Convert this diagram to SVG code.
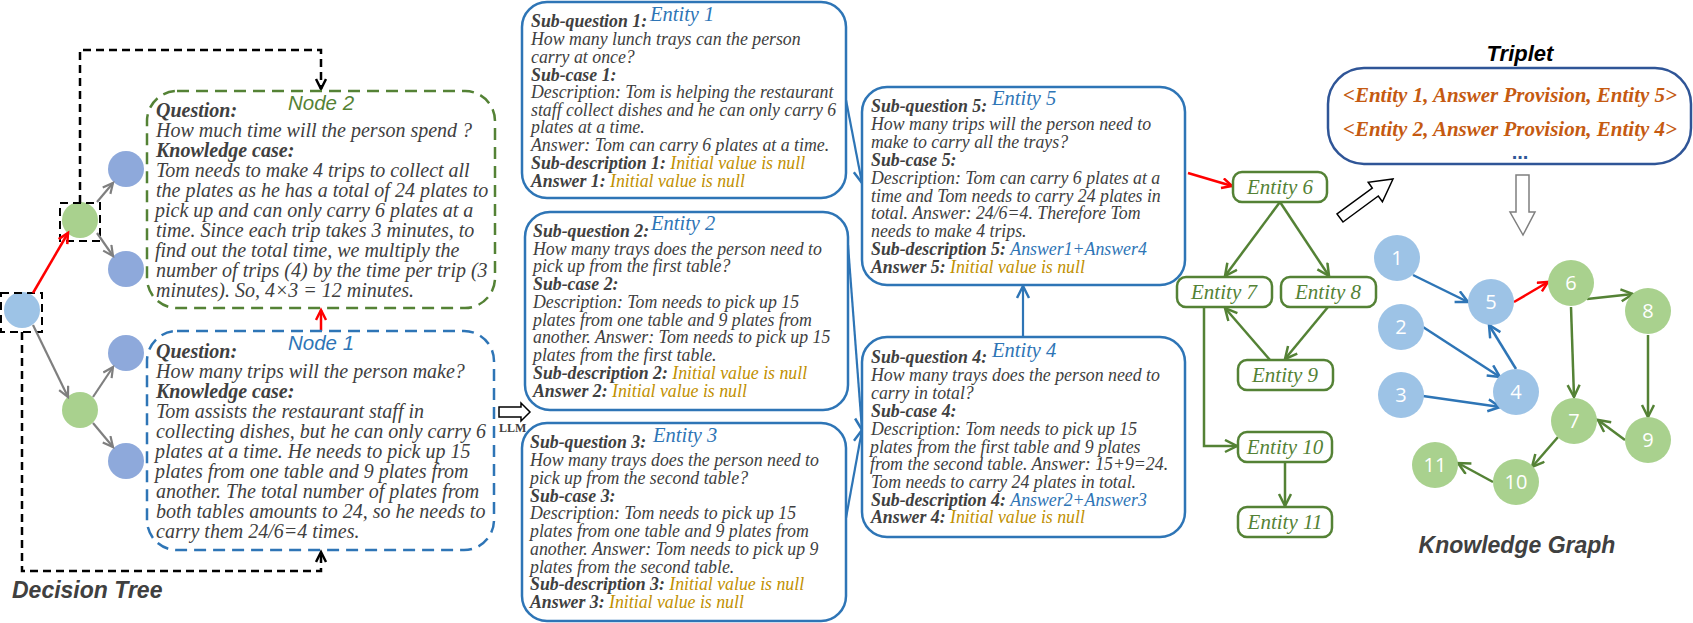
<svg xmlns="http://www.w3.org/2000/svg" width="1693" height="623" viewBox="0 0 1693 623">
<style>
.t{font-family:"Liberation Serif","Times New Roman",serif;font-style:italic;fill:#404040}
.n{font-size:20px}
.e{font-size:17.8px}
.b{font-weight:bold}
.gold{fill:#BF9000}
.blu{fill:#2E75B6}
.elbl{font-family:"Liberation Serif",serif;font-style:italic;font-size:20.5px;fill:#2E75B6}
.glbl{font-family:"Liberation Serif",serif;font-style:italic;font-size:21px;fill:#548235;text-anchor:middle}
.nodelbl{font-family:"Liberation Sans",Arial,sans-serif;font-style:italic;font-size:20.5px;text-anchor:middle}
.head{font-family:"Liberation Sans",Arial,sans-serif;font-weight:bold;font-style:italic}
.ebox{fill:#fff;stroke:#2E75B6;stroke-width:2.5}
.gbox{fill:#fff;stroke:#548235;stroke-width:2.5}
.kgn{font-family:"Open Sans","Liberation Sans",sans-serif;font-size:20px;fill:#fff;text-anchor:middle}
.trip{font-family:"Liberation Serif",serif;font-style:italic;font-weight:bold;font-size:21px;fill:#C55A11;text-anchor:middle}
</style>
<defs>
<marker id="aBlk" markerUnits="userSpaceOnUse" markerWidth="14" markerHeight="14" refX="11" refY="6" orient="auto"><path d="M1,1 L11,6 L1,11" fill="none" stroke="#000" stroke-width="2.5"/></marker>
<marker id="aRed" markerUnits="userSpaceOnUse" markerWidth="14" markerHeight="14" refX="11" refY="6" orient="auto"><path d="M1,1 L11,6 L1,11" fill="none" stroke="#FF0000" stroke-width="2.5"/></marker>
<marker id="aGry" markerUnits="userSpaceOnUse" markerWidth="14" markerHeight="14" refX="11" refY="6" orient="auto"><path d="M1,1 L11,6 L1,11" fill="none" stroke="#7F7F7F" stroke-width="2.2"/></marker>
<marker id="aBlu" markerUnits="userSpaceOnUse" markerWidth="16" markerHeight="16" refX="13" refY="7" orient="auto"><path d="M1,1 L13,7 L1,13" fill="none" stroke="#2E75B6" stroke-width="2.5"/></marker>
<marker id="aGrn" markerUnits="userSpaceOnUse" markerWidth="16" markerHeight="16" refX="13" refY="7" orient="auto"><path d="M1,1 L13,7 L1,13" fill="none" stroke="#548235" stroke-width="2.5"/></marker>
</defs>
<rect width="1693" height="623" fill="#fff"/>

<g id="decision-tree">
<circle cx="22" cy="310" r="18" fill="#9DC3E6"/>
<circle cx="80" cy="220" r="18" fill="#A9D18E"/>
<circle cx="80" cy="410" r="18" fill="#A9D18E"/>
<circle cx="126" cy="169" r="18" fill="#8EA9DB"/>
<circle cx="126" cy="269" r="18" fill="#8EA9DB"/>
<circle cx="126" cy="353" r="18" fill="#8EA9DB"/>
<circle cx="126" cy="461" r="18" fill="#8EA9DB"/>
<rect x="60" y="203" width="40" height="38" fill="none" stroke="#000" stroke-width="2" stroke-dasharray="8,5"/>
<rect x="1" y="293" width="41" height="39" fill="none" stroke="#000" stroke-width="2" stroke-dasharray="8,5"/>
<text x="12" y="598" class="head" font-size="23" fill="#404040">Decision Tree</text>
</g>

<g id="connectors">
<path d="M33,293 L68,233" stroke="#FF0000" stroke-width="2.5" fill="none" marker-end="url(#aRed)"/>
<path d="M33,325 L68,397" stroke="#7F7F7F" stroke-width="2.2" fill="none" marker-end="url(#aGry)"/>
<path d="M97,202 L113,183" stroke="#7F7F7F" stroke-width="2.2" fill="none" marker-end="url(#aGry)"/>
<path d="M97,233 L113,256" stroke="#7F7F7F" stroke-width="2.2" fill="none" marker-end="url(#aGry)"/>
<path d="M93,397 L113,367" stroke="#7F7F7F" stroke-width="2.2" fill="none" marker-end="url(#aGry)"/>
<path d="M93,423 L113,447" stroke="#7F7F7F" stroke-width="2.2" fill="none" marker-end="url(#aGry)"/>
<path d="M80,203 V50 H321 V89" stroke="#000" stroke-width="2.5" stroke-dasharray="8,5" fill="none" marker-end="url(#aBlk)"/>
<path d="M22,332 V571 H321 V552" stroke="#000" stroke-width="2.5" stroke-dasharray="8,5" fill="none" marker-end="url(#aBlk)"/>
<path d="M321,331 V310" stroke="#FF0000" stroke-width="2.5" fill="none" marker-end="url(#aRed)"/>
<polygon points="499,407 521,407 521,403 530,412 521,421 521,417 499,417" fill="#fff" stroke="#000" stroke-width="1.5"/>
<path d="M846,100 L862,183" stroke="#2E75B6" stroke-width="2.2" fill="none" marker-end="url(#aBlu)"/>
<path d="M848,245 L862,430" stroke="#2E75B6" stroke-width="2.2" fill="none" marker-end="url(#aBlu)"/>
<path d="M846,518 L862,430" stroke="#2E75B6" stroke-width="2.2" fill="none" marker-end="url(#aBlu)"/>
<path d="M1023,337 V286" stroke="#2E75B6" stroke-width="2.2" fill="none" marker-end="url(#aBlu)"/>
<path d="M1188,173 L1232,186" stroke="#FF0000" stroke-width="2.5" fill="none" marker-end="url(#aRed)"/>
<path d="M1280,202 L1225,276" stroke="#548235" stroke-width="2.5" fill="none" marker-end="url(#aGrn)"/>
<path d="M1280,202 L1329,276" stroke="#548235" stroke-width="2.5" fill="none" marker-end="url(#aGrn)"/>
<path d="M1328,307 L1285,359" stroke="#548235" stroke-width="2.5" fill="none" marker-end="url(#aGrn)"/>
<path d="M1270,360 L1225,308" stroke="#548235" stroke-width="2.5" fill="none" marker-end="url(#aGrn)"/>
<path d="M1204,307 V446 H1237" stroke="#548235" stroke-width="2.5" fill="none" marker-end="url(#aGrn)"/>
<path d="M1285,462 V506" stroke="#548235" stroke-width="2.5" fill="none" marker-end="url(#aGrn)"/>
<polygon points="1343,222 1378.3,196 1382.4,201.7 1393,179 1368.2,182.3 1372.3,188 1337,214" fill="#fff" stroke="#000" stroke-width="1.5"/>
<polygon points="1516,175 1529,175 1529,212 1535,212 1523,235 1510,212 1516,212" fill="#fff" stroke="#7F7F7F" stroke-width="1.5"/>
<path d="M1413,275 L1468,302" stroke="#2E75B6" stroke-width="2.5" fill="none" marker-end="url(#aBlu)"/>
<path d="M1423,327 L1500,377" stroke="#2E75B6" stroke-width="2.5" fill="none" marker-end="url(#aBlu)"/>
<path d="M1423,396 L1500,407" stroke="#2E75B6" stroke-width="2.5" fill="none" marker-end="url(#aBlu)"/>
<path d="M1516,369 L1489,325" stroke="#2E75B6" stroke-width="2.5" fill="none" marker-end="url(#aBlu)"/>
<path d="M1514,302 L1548,282" stroke="#FF0000" stroke-width="2.5" fill="none" marker-end="url(#aRed)"/>
<path d="M1587,299 L1633,294" stroke="#548235" stroke-width="2.5" fill="none" marker-end="url(#aGrn)"/>
<path d="M1571,307 L1574,397" stroke="#548235" stroke-width="2.5" fill="none" marker-end="url(#aGrn)"/>
<path d="M1648,335 V417" stroke="#548235" stroke-width="2.5" fill="none" marker-end="url(#aGrn)"/>
<path d="M1625,440 L1598,420" stroke="#548235" stroke-width="2.5" fill="none" marker-end="url(#aGrn)"/>
<path d="M1558,437 L1532,467" stroke="#548235" stroke-width="2.5" fill="none" marker-end="url(#aGrn)"/>
<path d="M1493,482 L1458,463" stroke="#548235" stroke-width="2.5" fill="none" marker-end="url(#aGrn)"/>
</g>

<g id="llm-label"><text x="499" y="432" font-family="Liberation Serif,serif" font-weight="bold" font-size="12" fill="#404040">LLM</text></g>

<g id="node2">
<rect x="147" y="91" width="348" height="217" rx="30" fill="none" stroke="#548235" stroke-width="2.5" stroke-dasharray="12,7"/>
<text x="321" y="110" class="nodelbl" fill="#548235">Node 2</text>
<text class="t n">
<tspan x="156" y="117" class="b">Question:</tspan>
<tspan x="156" y="137">How much time will the person spend ?</tspan>
<tspan x="156" y="157" class="b">Knowledge case:</tspan>
<tspan x="156" y="177">Tom needs to make 4 trips to collect all</tspan>
<tspan x="156" y="197">the plates as he has a total of 24 plates to</tspan>
<tspan x="155" y="217">pick up and can only carry 6 plates at a</tspan>
<tspan x="156" y="237">time. Since each trip takes 3 minutes, to</tspan>
<tspan x="155" y="257">find out the total time, we multiply the</tspan>
<tspan x="156" y="277">number of trips (4) by the time per trip (3</tspan>
<tspan x="156" y="297">minutes). So, 4×3 = 12 minutes.</tspan>
</text>
</g>

<g id="node1">
<rect x="147" y="331" width="347" height="219" rx="30" fill="none" stroke="#2E75B6" stroke-width="2.5" stroke-dasharray="12,7"/>
<text x="321" y="350" class="nodelbl" fill="#2E75B6">Node 1</text>
<text class="t n">
<tspan x="156" y="358" class="b">Question:</tspan>
<tspan x="156" y="378">How many trips will the person make?</tspan>
<tspan x="156" y="398" class="b">Knowledge case:</tspan>
<tspan x="156" y="418">Tom assists the restaurant staff in</tspan>
<tspan x="156" y="438">collecting dishes, but he can only carry 6</tspan>
<tspan x="155" y="458">plates at a time. He needs to pick up 15</tspan>
<tspan x="155" y="478">plates from one table and 9 plates from</tspan>
<tspan x="156" y="498">another. The total number of plates from</tspan>
<tspan x="156" y="518">both tables amounts to 24, so he needs to</tspan>
<tspan x="156" y="538">carry them 24/6=4 times.</tspan>
</text>
</g>

<g id="entity1">
<rect x="522" y="2" width="324" height="196" rx="25" class="ebox"/>
<text x="650" y="21" class="elbl">Entity 1</text>
<text class="t e">
<tspan x="531" y="27" class="b">Sub-question 1:</tspan>
<tspan x="531" y="45">How many lunch trays can the person</tspan>
<tspan x="531" y="63">carry at once?</tspan>
<tspan x="531" y="81" class="b">Sub-case 1:</tspan>
<tspan x="531" y="98">Description: Tom is helping the restaurant</tspan>
<tspan x="531" y="116">staff collect dishes and he can only carry 6</tspan>
<tspan x="531" y="133">plates at a time.</tspan>
<tspan x="531" y="151">Answer: Tom can carry 6 plates at a time.</tspan>
<tspan x="531" y="169" class="b">Sub-description 1: </tspan><tspan class="gold">Initial value is null</tspan>
<tspan x="531" y="187" class="b">Answer 1: </tspan><tspan class="gold">Initial value is null</tspan>
</text>
</g>

<g id="entity2">
<rect x="525" y="212" width="323" height="198" rx="25" class="ebox"/>
<text x="651" y="230" class="elbl">Entity 2</text>
<text class="t e">
<tspan x="533" y="237" class="b">Sub-question 2:</tspan>
<tspan x="533" y="255">How many trays does the person need to</tspan>
<tspan x="533" y="272">pick up from the first table?</tspan>
<tspan x="533" y="290" class="b">Sub-case 2:</tspan>
<tspan x="533" y="308">Description: Tom needs to pick up 15</tspan>
<tspan x="533" y="326">plates from one table and 9 plates from</tspan>
<tspan x="533" y="343">another. Answer: Tom needs to pick up 15</tspan>
<tspan x="533" y="361">plates from the first table.</tspan>
<tspan x="533" y="379" class="b">Sub-description 2: </tspan><tspan class="gold">Initial value is null</tspan>
<tspan x="533" y="397" class="b">Answer 2: </tspan><tspan class="gold">Initial value is null</tspan>
</text>
</g>

<g id="entity3">
<rect x="522" y="423" width="324" height="198" rx="25" class="ebox"/>
<text x="653" y="442" class="elbl">Entity 3</text>
<text class="t e">
<tspan x="530" y="448" class="b">Sub-question 3:</tspan>
<tspan x="530" y="466">How many trays does the person need to</tspan>
<tspan x="530" y="484">pick up from the second table?</tspan>
<tspan x="530" y="502" class="b">Sub-case 3:</tspan>
<tspan x="530" y="519">Description: Tom needs to pick up 15</tspan>
<tspan x="530" y="537">plates from one table and 9 plates from</tspan>
<tspan x="530" y="555">another. Answer: Tom needs to pick up 9</tspan>
<tspan x="530" y="573">plates from the second table.</tspan>
<tspan x="530" y="590" class="b">Sub-description 3: </tspan><tspan class="gold">Initial value is null</tspan>
<tspan x="530" y="608" class="b">Answer 3: </tspan><tspan class="gold">Initial value is null</tspan>
</text>
</g>

<g id="entity5">
<rect x="862" y="87" width="323" height="198" rx="25" class="ebox"/>
<text x="992" y="105" class="elbl">Entity 5</text>
<text class="t e">
<tspan x="871" y="112" class="b">Sub-question 5:</tspan>
<tspan x="871" y="130">How many trips will the person need to</tspan>
<tspan x="871" y="148">make to carry all the trays?</tspan>
<tspan x="871" y="166" class="b">Sub-case 5:</tspan>
<tspan x="871" y="184">Description: Tom can carry 6 plates at a</tspan>
<tspan x="871" y="202">time and Tom needs to carry 24 plates in</tspan>
<tspan x="871" y="219">total. Answer: 24/6=4. Therefore Tom</tspan>
<tspan x="871" y="237">needs to make 4 trips.</tspan>
<tspan x="871" y="255" class="b">Sub-description 5: </tspan><tspan class="blu">Answer1+Answer4</tspan>
<tspan x="871" y="273" class="b">Answer 5: </tspan><tspan class="gold">Initial value is null</tspan>
</text>
</g>

<g id="entity4">
<rect x="862" y="337" width="323" height="200" rx="25" class="ebox"/>
<text x="992" y="357" class="elbl">Entity 4</text>
<text class="t e">
<tspan x="871" y="363" class="b">Sub-question 4:</tspan>
<tspan x="871" y="381">How many trays does the person need to</tspan>
<tspan x="871" y="399">carry in total?</tspan>
<tspan x="871" y="417" class="b">Sub-case 4:</tspan>
<tspan x="871" y="435">Description: Tom needs to pick up 15</tspan>
<tspan x="870" y="453">plates from the first table and 9 plates</tspan>
<tspan x="870" y="470">from the second table. Answer: 15+9=24.</tspan>
<tspan x="871" y="488">Tom needs to carry 24 plates in total.</tspan>
<tspan x="871" y="506" class="b">Sub-description 4: </tspan><tspan class="blu">Answer2+Answer3</tspan>
<tspan x="871" y="523" class="b">Answer 4: </tspan><tspan class="gold">Initial value is null</tspan>
</text>
</g>

<g id="g-entity6"><rect x="1233" y="172" width="94" height="30" rx="9" class="gbox"/><text x="1280" y="194" class="glbl">Entity 6</text></g>
<g id="g-entity7"><rect x="1177" y="277" width="95" height="30" rx="9" class="gbox"/><text x="1224" y="299" class="glbl">Entity 7</text></g>
<g id="g-entity8"><rect x="1281" y="277" width="95" height="30" rx="9" class="gbox"/><text x="1328" y="299" class="glbl">Entity 8</text></g>
<g id="g-entity9"><rect x="1238" y="360" width="95" height="30" rx="9" class="gbox"/><text x="1285" y="382" class="glbl">Entity 9</text></g>
<g id="g-entity10"><rect x="1238" y="432" width="94" height="30" rx="9" class="gbox"/><text x="1285" y="454" class="glbl">Entity 10</text></g>
<g id="g-entity11"><rect x="1238" y="507" width="94" height="30" rx="9" class="gbox"/><text x="1285" y="529" class="glbl">Entity 11</text></g>

<g id="triplet">
<text x="1520" y="61" class="head" font-size="22" fill="#000" text-anchor="middle">Triplet</text>
<rect x="1328" y="68" width="363" height="96" rx="36" fill="#fff" stroke="#2F5597" stroke-width="2.5"/>
<text x="1510" y="102" class="trip">&lt;Entity 1, Answer Provision, Entity 5&gt;</text>
<text x="1510" y="136" class="trip">&lt;Entity 2, Answer Provision, Entity 4&gt;</text>
<text x="1520" y="159" font-family="Liberation Sans,sans-serif" font-size="20" font-weight="bold" fill="#2F5597" text-anchor="middle">...</text>
</g>

<g id="kg-1"><circle cx="1397" cy="258" r="23" fill="#9DC3E6"/><text x="1397" y="265" class="kgn">1</text></g>
<g id="kg-2"><circle cx="1401" cy="327" r="23" fill="#9DC3E6"/><text x="1401" y="334" class="kgn">2</text></g>
<g id="kg-3"><circle cx="1401" cy="395" r="23" fill="#9DC3E6"/><text x="1401" y="402" class="kgn">3</text></g>
<g id="kg-4"><circle cx="1516" cy="392" r="23" fill="#9DC3E6"/><text x="1516" y="399" class="kgn">4</text></g>
<g id="kg-5"><circle cx="1491" cy="302" r="23" fill="#9DC3E6"/><text x="1491" y="309" class="kgn">5</text></g>
<g id="kg-6"><circle cx="1571" cy="283" r="23" fill="#A9D18E"/><text x="1571" y="290" class="kgn">6</text></g>
<g id="kg-7"><circle cx="1574" cy="421" r="23" fill="#A9D18E"/><text x="1574" y="428" class="kgn">7</text></g>
<g id="kg-8"><circle cx="1648" cy="311" r="23" fill="#A9D18E"/><text x="1648" y="318" class="kgn">8</text></g>
<g id="kg-9"><circle cx="1648" cy="440" r="23" fill="#A9D18E"/><text x="1648" y="447" class="kgn">9</text></g>
<g id="kg-10"><circle cx="1516" cy="482" r="23" fill="#A9D18E"/><text x="1516" y="489" class="kgn">10</text></g>
<g id="kg-11"><circle cx="1435" cy="465" r="23" fill="#A9D18E"/><text x="1435" y="472" class="kgn">11</text></g>
<text x="1517" y="553" class="head" font-size="23" fill="#404040" text-anchor="middle">Knowledge Graph</text>
</svg>
